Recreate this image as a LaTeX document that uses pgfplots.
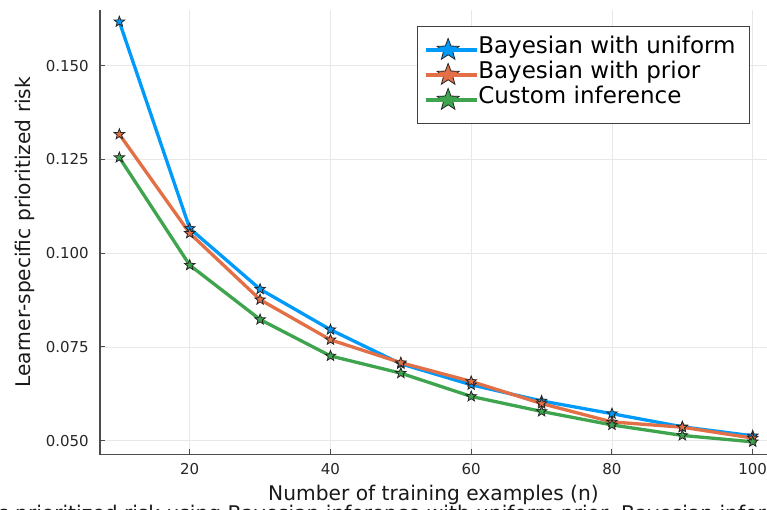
\documentclass[border=0pt]{standalone}
\usepackage{fontspec}
\setmainfont{DejaVu Sans}
\usepackage{pgfplots}
\pgfplotsset{compat=1.18}
\definecolor{jblue}{RGB}{0,154,250}
\definecolor{jorange}{RGB}{227,111,71}
\definecolor{jgreen}{RGB}{62,164,78}
\pgfdeclareplotmark{fstar}{%
  \pgfpathmoveto{\pgfpointpolar{90}{\pgfplotmarksize}}%
  \pgfpathlineto{\pgfpointpolar{126}{0.42*\pgfplotmarksize}}%
  \pgfpathlineto{\pgfpointpolar{162}{\pgfplotmarksize}}%
  \pgfpathlineto{\pgfpointpolar{198}{0.42*\pgfplotmarksize}}%
  \pgfpathlineto{\pgfpointpolar{234}{\pgfplotmarksize}}%
  \pgfpathlineto{\pgfpointpolar{270}{0.42*\pgfplotmarksize}}%
  \pgfpathlineto{\pgfpointpolar{306}{\pgfplotmarksize}}%
  \pgfpathlineto{\pgfpointpolar{342}{0.42*\pgfplotmarksize}}%
  \pgfpathlineto{\pgfpointpolar{18}{\pgfplotmarksize}}%
  \pgfpathlineto{\pgfpointpolar{54}{0.42*\pgfplotmarksize}}%
  \pgfpathclose
  \pgfusepathqfillstroke}
\begin{document}
\begin{tikzpicture}
\useasboundingbox (0,0) rectangle (767bp,510bp);
\begin{axis}[
  at={(100bp,55.5bp)}, anchor=south west,
  scale only axis, width=667bp, height=444.5bp,
  xmin=7.25, xmax=102.03, ymin=0.04632, ymax=0.16484,
  xtick={20,40,60,80,100},
  ytick={0.05,0.075,0.1,0.125,0.15},
  /pgf/number format/.cd, fixed, fixed zerofill, precision=3, assume math mode=true,
  /pgfplots/.cd,
  xticklabel style={/pgf/number format/precision=0, /pgf/number format/fixed zerofill=false},
  axis x line*=bottom, axis y line*=left,
  axis line style={-, black!70, line width=1.1bp},
  tick align=inside, major tick length=5bp,
  tick style={black!70, line width=1bp},
  grid=major, grid style={black!9, line width=0.7bp},
  ticklabel style={font=\fontsize{15bp}{18bp}\selectfont, text=black!85, inner sep=0pt},
  yticklabel style={anchor=east, xshift=-11bp},
  xticklabel style={anchor=north, yshift=-8.5bp},
  xlabel={Number of training examples (n)},
  ylabel={Learner-specific prioritized risk},
  label style={font=\fontsize{20.2bp}{24bp}\selectfont, text=black!90, inner sep=0pt},
  xlabel style={at={(axis description cs:0.5,-0.1035)}, anchor=base},
  ylabel style={at={(axis description cs:-0.10345,0.5)}, anchor=base},
  legend style={at={(axis description cs:0.9745,0.9640)}, anchor=north east,
    draw=black!75, line width=0.9bp, fill=white,
    inner xsep=7bp, inner ysep=11bp, row sep=0pt,
    font=\fontsize{23bp}{25bp}\selectfont,
    nodes={inner sep=0pt, text height=16.5bp, text depth=8.5bp}},
  legend cell align=left,
  legend image code/.code={%
    \draw[#1, mark=none, line width=2bp] (0bp,0bp) -- (45bp,0bp);
    \draw[#1, only marks, mark size=11.5bp] plot coordinates {(22.5bp,0bp)};
    \path (0bp,0bp) -- (51bp,0bp);},
  every axis plot/.append style={line width=3.3bp, mark=fstar, mark size=5.5bp},
]
\addplot[color=jblue, mark options={fill=jblue, draw=black!85, line width=0.8bp, solid}] coordinates {
(10,0.1617) (20,0.1066) (30,0.0904) (40,0.0796) (50,0.0705) (60,0.0649) (70,0.0606) (80,0.0572) (90,0.0537) (100,0.0513)};
\addlegendentry{Bayesian with uniform\rule{7bp}{0pt}}
\addplot[color=jorange, mark options={fill=jorange, draw=black!85, line width=0.8bp, solid}] coordinates {
(10,0.1317) (20,0.1053) (30,0.0876) (40,0.0769) (50,0.0708) (60,0.0658) (70,0.0599) (80,0.0550) (90,0.0536) (100,0.0507)};
\addlegendentry{Bayesian with prior}
\addplot[color=jgreen, mark options={fill=jgreen, draw=black!85, line width=0.8bp, solid}] coordinates {
(10,0.1255) (20,0.0968) (30,0.0823) (40,0.0726) (50,0.0680) (60,0.0618) (70,0.0578) (80,0.0542) (90,0.0514) (100,0.0497)};
\addlegendentry{Custom inference}
\end{axis}
\node[anchor=base east, inner sep=0pt, font=\fontsize{20.2bp}{24bp}\selectfont, text=black!90] at (8.6bp,-10bp) {Learner-specific};
\node[anchor=base west, inner sep=0pt, font=\fontsize{20.2bp}{24bp}\selectfont, text=black!90] at (15bp,-10bp) {prioritized risk using Bayesian inference with uniform prior, Bayesian inference with prior, and custom inference};
\end{tikzpicture}
\end{document}
